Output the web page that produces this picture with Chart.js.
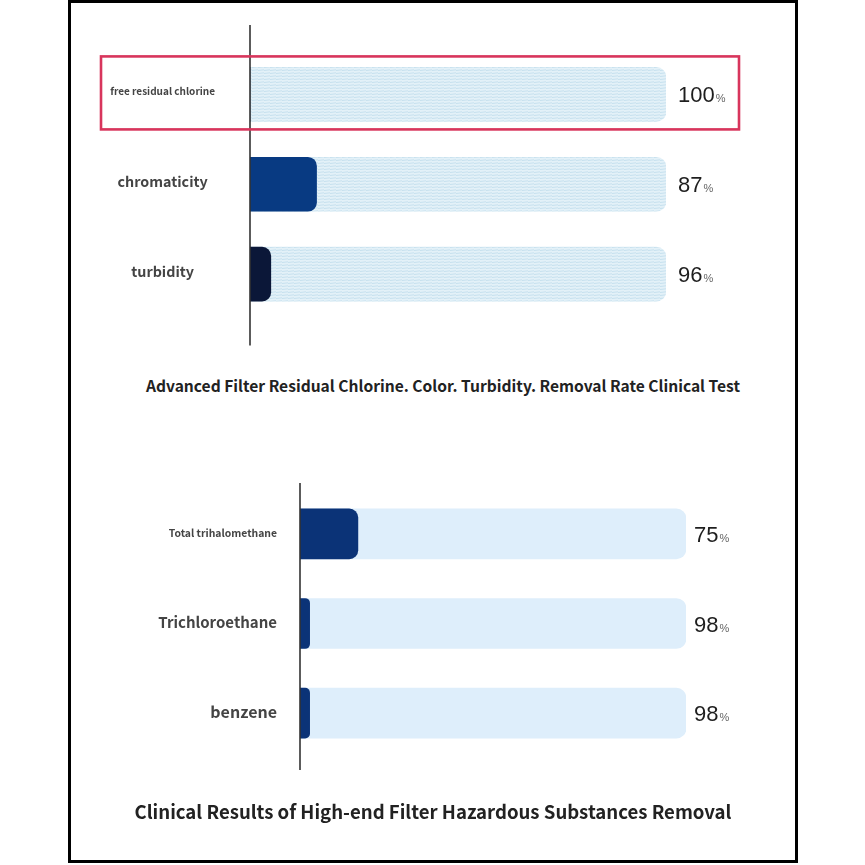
<!DOCTYPE html>
<html>
<head>
<meta charset="utf-8">
<script src="https://cdn.jsdelivr.net/npm/chart.js@4.4.1/dist/chart.umd.min.js"></script>
<style>
body{margin:0;background:#fff;width:865px;height:865px;position:relative;overflow:hidden;font-family:"Noto Sans CJK SC","Noto Sans",sans-serif;}
#frame{position:absolute;left:68px;top:0;width:724px;height:857px;border:3px solid #000;}
.wrap{position:absolute;left:72px;width:720px;height:360px;}
.ttl{position:absolute;left:72px;width:740px;text-align:center;font-weight:bold;color:#222;white-space:nowrap;}
</style>
</head>
<body>
<div id="frame"></div>
<div class="wrap" style="top:0"><canvas id="c1"></canvas></div>
<div class="wrap" style="top:440px"><canvas id="c2"></canvas></div>
<div class="ttl" style="top:374px;font-size:15.6px;left:73px">Advanced Filter Residual Chlorine. Color. Turbidity. Removal Rate Clinical Test</div>
<div class="ttl" style="top:797px;font-size:18.6px;left:63px">Clinical Results of High-end Filter Hazardous Substances Removal</div>
<script>
// top chart data
var topLabels=['free residual chlorine','chromaticity','turbidity'];
var topRates=[100,87,96];       // printed removal rate
var topDark=[0,16,5];           // dark part
var topTrack=[100,100,100];
var topTickSize=[10,14.3,14.3];
// bottom chart data
var botLabels=['Total trihalomethane','Trichloroethane','benzene'];
var botRates=[75,98,98];
var botDark=[15,2.5,2.5];
var botTrack=[100,100,100];
var botTickSize=[10.4,15,16];

var FAM='"Noto Sans CJK SC","Noto Sans",sans-serif';

function hatch(){
  var c=document.createElement('canvas');c.width=6;c.height=3;
  var x=c.getContext('2d');
  x.fillStyle='#e3f1f8';x.fillRect(0,0,6,3);
  x.strokeStyle='#c6e0ee';x.lineWidth=1;
  x.beginPath();x.moveTo(0,1.5);x.lineTo(6,0.8);x.stroke();
  return x.createPattern(c,'repeat');
}

var axisLine={id:'axisLine',afterDatasetsDraw:function(ch,a,o){
  var ctx=ch.ctx,xs=ch.scales.x,x0=xs.getPixelForValue(0);
  ctx.save();ctx.strokeStyle='#333';ctx.lineWidth=1.6;
  ctx.beginPath();ctx.moveTo(x0,ch.chartArea.top-o.up);ctx.lineTo(x0,ch.chartArea.bottom+o.down);ctx.stroke();
  ctx.restore();
}};
var pctLabels={id:'pctLabels',afterDatasetsDraw:function(ch,a,o){
  var ctx=ch.ctx,xs=ch.scales.x,ys=ch.scales.y;
  ctx.save();ctx.textBaseline='alphabetic';
  o.rates.forEach(function(v,i){
    var x=xs.getPixelForValue(100)+o.gap,y=ys.getPixelForValue(i)+8;
    ctx.font='22px "Liberation Sans",Arial,sans-serif';ctx.fillStyle='#1e1e1e';ctx.textAlign='left';
    var s=String(v);ctx.fillText(s,x,y);
    var w=ctx.measureText(s).width;
    ctx.font='11px "Liberation Sans",Arial,sans-serif';ctx.fillStyle='#666';
    ctx.fillText('%',x+w+1,y);
  });
  ctx.restore();
}};
var redBox={id:'redBox',afterDraw:function(ch,a,o){
  if(!o.on)return;
  var ctx=ch.ctx,xs=ch.scales.x,ys=ch.scales.y,cy=ys.getPixelForValue(0);
  ctx.save();ctx.strokeStyle='#d8355c';ctx.lineWidth=2.6;
  var l=ch.chartArea.left-149,r=xs.getPixelForValue(100)+73;
  ctx.strokeRect(l,cy-38,r-l,73);
  ctx.restore();
}};

function makeChart(id,labels,dark,darkColors,track,trackColor,rates,sizes,thick,yw,cross,pad,lift,layout,axisExt,gap,box){
  return new Chart(document.getElementById(id),{
    type:'bar',
    data:{labels:labels,datasets:[
      {data:dark,backgroundColor:darkColors,grouped:false,barThickness:thick,borderSkipped:'start',
       borderRadius:{topLeft:9,topRight:9,bottomLeft:9,bottomRight:9}},
      {data:track,backgroundColor:trackColor,grouped:false,barThickness:thick,borderSkipped:'start',
       borderRadius:{topLeft:10,topRight:10,bottomLeft:10,bottomRight:10}}
    ]},
    options:{
      indexAxis:'y',responsive:true,maintainAspectRatio:false,animation:false,
      layout:{padding:layout},
      scales:{
        x:{display:false,min:0,max:100},
        y:{grid:{display:false,drawTicks:false},border:{display:false},
           afterFit:function(s){s.width=yw;},
           ticks:{crossAlign:cross,padding:pad,labelOffset:lift,color:'#444',
             font:function(c){return {family:FAM,weight:'bold',size:sizes[c.index]||12};}}}
      },
      plugins:{legend:{display:false},tooltip:{enabled:false},
        axisLine:axisExt,pctLabels:{rates:rates,gap:gap},redBox:{on:box}}
    },
    plugins:[axisLine,pctLabels,redBox]
  });
}

makeChart('c1',topLabels,topDark,['#083a82','#083a82','#0b1738'],topTrack,hatch(),topRates,topTickSize,54,178,'center',35,-3,
  {top:49.5,bottom:38.5,left:0,right:126},{up:24.5,down:26.5},12,true);
makeChart('c2',botLabels,botDark,'#0b3377',botTrack,'#deeefb',botRates,botTickSize,50,228,'near',23,-1,
  {top:49,bottom:42,left:0,right:106},{up:6,down:12},8,false);
</script>
</body>
</html>
